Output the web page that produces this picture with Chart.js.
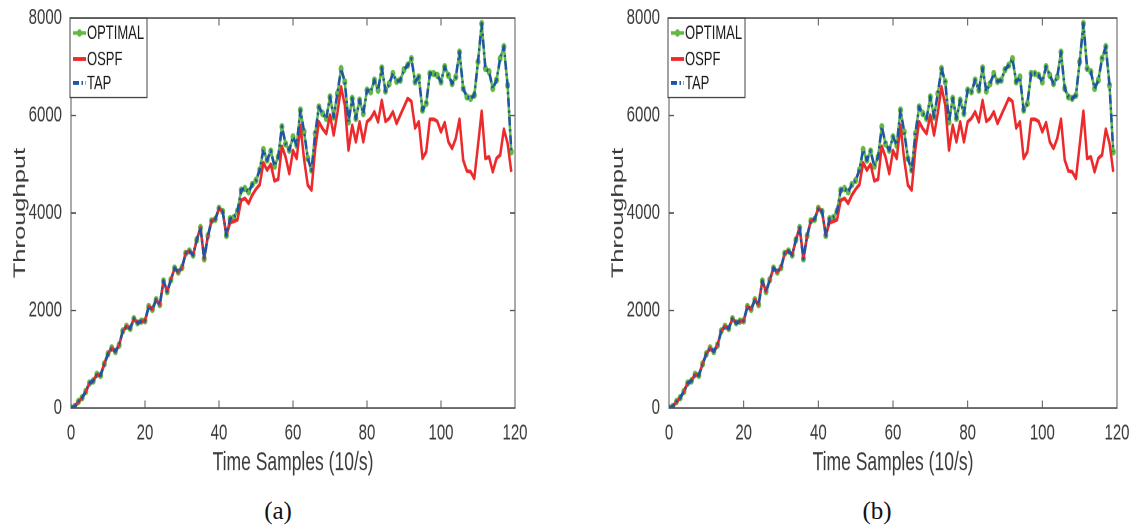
<!DOCTYPE html>
<html>
<head>
<meta charset="utf-8">
<title>Throughput vs. time samples</title>
<script src="https://cdn.jsdelivr.net/npm/chart.js@4.4.0/dist/chart.umd.min.js"></script>
<style>
  html, body { margin: 0; padding: 0; background: #fff; width: 1131px; height: 527px; overflow: hidden; }
  /* each MATLAB-style panel is laid out short and then stretched vertically */
  .panel { position: absolute; top: 0; width: 533px; height: 330px; transform: scaleY(1.5); transform-origin: 0 0; }
  .panel canvas { display: block; }
  .caption { position: absolute; top: 497px; width: 60px; text-align: center; line-height: 28px;
             font-family: 'Liberation Serif', 'Times New Roman', serif; font-size: 25px; color: #111; }
</style>
</head>
<body>
<div class="panel" style="left:0px"><canvas id="chartA" width="533" height="330"></canvas></div>
<div class="panel" style="left:598px"><canvas id="chartB" width="533" height="330"></canvas></div>
<div class="caption" style="left:248px">(a)</div>
<div class="caption" style="left:847px">(b)</div>

<script>
// Time samples (10 per second)
const timeSamples = [
  0, 1, 2, 3, 4, 5, 6, 7, 8, 9,
  10, 11, 12, 13, 14, 15, 16, 17, 18, 19,
  20, 21, 22, 23, 24, 25, 26, 27, 28, 29,
  30, 31, 32, 33, 34, 35, 36, 37, 38, 39,
  40, 41, 42, 43, 44, 45, 46, 47, 48, 49,
  50, 51, 52, 53, 54, 55, 56, 57, 58, 59,
  60, 61, 62, 63, 64, 65, 66, 67, 68, 69,
  70, 71, 72, 73, 74, 75, 76, 77, 78, 79,
  80, 81, 82, 83, 84, 85, 86, 87, 88, 89,
  90, 91, 92, 93, 94, 95, 96, 97, 98, 99,
  100, 101, 102, 103, 104, 105, 106, 107, 108, 109,
  110, 111, 112, 113, 114, 115, 116, 117, 118, 119
];

const optimal = [
  0, 30, 130, 210, 340, 510, 555, 690, 670, 905,
  1110, 1230, 1160, 1290, 1580, 1675, 1630, 1830, 1745, 1780,
  1790, 2080, 2025, 2220, 2120, 2605, 2390, 2630, 2870, 2790,
  2880, 3175, 3220, 3140, 3450, 3700, 3060, 3530, 3840, 3870,
  4095, 4030, 3540, 3880, 3905, 4040, 4470, 4500, 4435, 4585,
  4670, 4880, 5300, 5085, 5270, 4960, 5150, 5770, 5420, 5290,
  5560, 5390, 6110, 5665, 5120, 4880, 5630, 6175, 6040, 5940,
  6380, 5970, 6450, 6960, 6690, 5870, 6350, 5940, 6315, 6040,
  6520, 6485, 6725, 6520, 6975, 6500, 6650, 6860, 6700, 6725,
  6940, 7030, 7165, 6690, 6790, 6110, 6245, 6860, 6860, 6825,
  6690, 7000, 6825, 6655, 6790, 7300, 6555, 6380, 6350, 6415,
  7100, 7885, 6965, 6895, 6555, 6725, 7170, 7410, 6620, 5255
];

const ospf = [
  0, 30, 130, 210, 340, 510, 555, 690, 670, 905,
  1110, 1230, 1160, 1290, 1580, 1675, 1630, 1830, 1745, 1780,
  1790, 2080, 2025, 2220, 2120, 2605, 2390, 2630, 2870, 2790,
  2880, 3175, 3220, 3140, 3450, 3700, 3060, 3530, 3840, 3870,
  4095, 4030, 3540, 3800, 3830, 3860, 4260, 4300, 4200, 4370,
  4490, 4580, 5030, 4880, 5000, 4660, 4690, 5370, 5150, 4810,
  5280, 5120, 5800, 5100, 4570, 4470, 5320, 5870, 5730, 5630,
  6010, 5600, 6050, 6590, 6210, 5290, 5800, 5460, 5870, 5460,
  5870, 5940, 6075, 5870, 6310, 5880, 5940, 6075, 5835, 6010,
  6180, 6350, 6290, 5745, 5870, 5120, 5255, 5925, 5925, 5880,
  5665, 5855, 5460, 5325, 5530, 5925, 5085, 4860, 4845, 4710,
  5390, 6090, 5120, 5150, 4845, 5120, 5190, 5720, 5430, 4845
];

const tap = [
  0, 30, 130, 210, 340, 510, 555, 690, 670, 905,
  1110, 1230, 1160, 1290, 1580, 1675, 1630, 1830, 1745, 1780,
  1790, 2080, 2025, 2220, 2120, 2605, 2390, 2630, 2870, 2790,
  2880, 3175, 3220, 3140, 3450, 3700, 3060, 3530, 3840, 3870,
  4095, 4030, 3540, 3880, 3905, 4040, 4470, 4500, 4435, 4585,
  4670, 4880, 5300, 5085, 5270, 4960, 5150, 5770, 5420, 5290,
  5560, 5390, 6110, 5665, 5120, 4880, 5630, 6175, 6040, 5940,
  6380, 5970, 6450, 6960, 6690, 5870, 6350, 5940, 6315, 6040,
  6520, 6485, 6725, 6520, 6975, 6500, 6650, 6860, 6700, 6725,
  6940, 7030, 7165, 6690, 6790, 6110, 6245, 6860, 6860, 6825,
  6690, 7000, 6825, 6655, 6790, 7300, 6555, 6380, 6350, 6415,
  7100, 7885, 6965, 6895, 6555, 6725, 7170, 7410, 6620, 5255
];

const xTicks = [0, 20, 40, 60, 80, 100, 120];
const yTicks = [0, 2000, 4000, 6000, 8000];

const seriesNames = ['OPTIMAL', 'OSPF', 'TAP'];
const GREEN = '#63b944';
const RED = '#ec2a2c';
const BLUE = '#1f55a5';
const AXIS = '#555555';
const LABEL = '#3a3a3a';
const SANS = "'Liberation Sans', Arial, Helvetica, sans-serif";

function toPoints(values) {
  return timeSamples.map((t, i) => ({ x: t, y: values[i] }));
}

// Box around the axes with inward ticks on all four sides, plus the boxed key
const frameAndKey = {
  id: 'frameAndKey',
  afterDatasetsDraw(chart) {
    const { ctx, chartArea: a, scales: { x, y } } = chart;
    ctx.save();
    ctx.strokeStyle = AXIS;
    ctx.lineWidth = 1;
    ctx.strokeRect(a.left, a.top, a.right - a.left, a.bottom - a.top);
    const len = 5;
    ctx.beginPath();
    xTicks.forEach(v => {
      const px = x.getPixelForValue(v);
      if (px <= a.left + 1 || px >= a.right - 1) return;
      ctx.moveTo(px, a.bottom); ctx.lineTo(px, a.bottom - len);
      ctx.moveTo(px, a.top); ctx.lineTo(px, a.top + len);
    });
    yTicks.forEach(v => {
      const py = y.getPixelForValue(v);
      if (py <= a.top + 1 || py >= a.bottom - 1) return;
      ctx.moveTo(a.left, py); ctx.lineTo(a.left + len, py);
      ctx.moveTo(a.right, py); ctx.lineTo(a.right - len, py);
    });
    ctx.stroke();

    // key
    const bx = a.left - 1, by = a.top, bw = 77, bh = 53;
    ctx.fillStyle = '#ffffff';
    ctx.fillRect(bx, by, bw, bh);
    ctx.strokeStyle = '#444444';
    ctx.strokeRect(bx, by, bw, bh);
    const rowY = [10, 27.3, 43.3];
    ctx.font = '13px ' + SANS;
    ctx.textBaseline = 'middle';
    ctx.textAlign = 'left';
    chart.data.datasets.forEach((ds, i) => {
      const cy = by + rowY[i];
      const x0 = bx + 3, x1 = bx + 16;
      ctx.save();
      ctx.strokeStyle = ds.borderColor;
      ctx.lineWidth = 2.5;
      ctx.setLineDash(ds.borderDash || []);
      ctx.beginPath(); ctx.moveTo(x0, cy); ctx.lineTo(x1, cy); ctx.stroke();
      if (ds.pointRadius > 0) {
        ctx.fillStyle = ds.pointBackgroundColor;
        ctx.beginPath(); ctx.arc((x0 + x1) / 2, cy, ds.pointRadius, 0, Math.PI * 2); ctx.fill();
      }
      ctx.restore();
      ctx.fillStyle = '#1a1a1a';
      ctx.fillText(ds.label, x1 + 1, cy + 0.5);
    });
    ctx.restore();
  }
};

function buildPanel(canvasId, plotRight) {
  const ctx = document.getElementById(canvasId);
  return new Chart(ctx, {
    type: 'line',
    data: {
      datasets: [
        { label: seriesNames[0], data: toPoints(optimal), borderColor: GREEN, backgroundColor: GREEN,
          borderWidth: 2.5, pointRadius: 2.5, pointBackgroundColor: GREEN, pointBorderWidth: 0,
          order: 3 },
        { label: seriesNames[1], data: toPoints(ospf), borderColor: RED, backgroundColor: RED,
          borderWidth: 2.5, pointRadius: 0, order: 2 },
        { label: seriesNames[2], data: toPoints(tap), borderColor: BLUE, backgroundColor: BLUE,
          borderWidth: 2.5, borderDash: [6, 2.5, 1.5, 2.5], pointRadius: 0, order: 1 }
      ]
    },
    options: {
      responsive: false,
      devicePixelRatio: 2,
      animation: false,
      events: [],
      elements: { line: { tension: 0, borderJoinStyle: 'round', borderCapStyle: 'butt' } },
      layout: { padding: { left: 0, right: 533 - plotRight, top: 12, bottom: 0 } },
      plugins: { legend: { display: false }, tooltip: { enabled: false } },
      scales: {
        x: {
          type: 'linear', min: 0, max: 120,
          afterBuildTicks: s => { s.ticks = xTicks.map(v => ({ value: v })); },
          ticks: { padding: 8, color: LABEL, font: { family: SANS, size: 15 }, callback: v => String(v) },
          grid: { display: false, drawTicks: false },
          border: { display: false },
          title: { display: true, text: 'Time Samples (10/s)', color: LABEL,
                   font: { family: SANS, size: 17.5 }, padding: { top: 0, bottom: 11 } },
          afterFit: s => { s.height = 58; s.paddingLeft = 0; s.paddingRight = 0; }
        },
        y: {
          min: 0, max: 8000,
          afterBuildTicks: s => { s.ticks = yTicks.map(v => ({ value: v })); },
          ticks: { padding: 9, color: LABEL, font: { family: SANS, size: 15 }, callback: v => String(v) },
          grid: { display: false, drawTicks: false },
          border: { display: false },
          title: { display: true, text: 'Throughput', color: LABEL,
                   font: { family: SANS, size: 17 }, padding: { top: 10, bottom: 0 } },
          afterFit: s => { s.width = 71; s.paddingTop = 0; s.paddingBottom = 0; }
        }
      }
    },
    plugins: [frameAndKey]
  });
}

buildPanel('chartA', 515);
buildPanel('chartB', 519);
</script>
</body>
</html>
